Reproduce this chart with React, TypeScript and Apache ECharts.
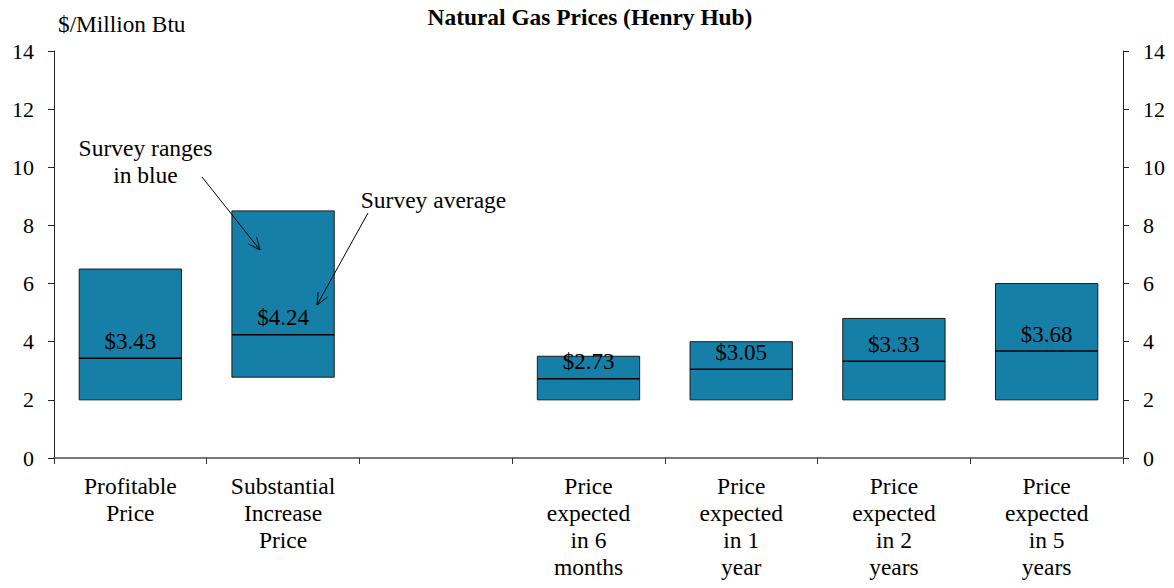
import React, { useEffect, useRef } from "react";
import * as echarts from "echarts";

const categories = [
  "Profitable\nPrice",
  "Substantial\nIncrease\nPrice",
  "",
  "Price\nexpected\nin 6\nmonths",
  "Price\nexpected\nin 1\nyear",
  "Price\nexpected\nin 2\nyears",
  "Price\nexpected\nin 5\nyears",
];
const rangeLow: (number | null)[] = [2, 2.78, null, 2, 2, 2, 2];
const rangeHigh: (number | null)[] = [6.5, 8.5, null, 3.5, 4, 4.8, 6];
const surveyAverage: (number | null)[] = [3.43, 4.24, null, 2.73, 3.05, 3.33, 3.68];
const yTicks = [0, 2, 4, 6, 8, 10, 12, 14];

const FONT = "Liberation Serif";

function arrow(x1: number, y1: number, x2: number, y2: number) {
  const ang = Math.atan2(y2 - y1, x2 - x1);
  const len = 13;
  const spread = 0.42;
  const a1 = ang + Math.PI - spread;
  const a2 = ang + Math.PI + spread;
  return [
    { type: "line", z: 100, shape: { x1, y1, x2, y2 }, style: { stroke: "#000", lineWidth: 1 } },
    {
      type: "polyline",
      z: 100,
      shape: {
        points: [
          [x2 + len * Math.cos(a1), y2 + len * Math.sin(a1)],
          [x2, y2],
          [x2 + len * Math.cos(a2), y2 + len * Math.sin(a2)],
        ],
      },
      style: { stroke: "#000", lineWidth: 1, fill: null },
    },
  ];
}

export default function App() {
  const ref = useRef<HTMLDivElement>(null);
  useEffect(() => {
    if (!ref.current) return;
    const chart = echarts.init(ref.current, null, { renderer: "svg" });
    const data: any[] = [];
    categories.forEach((_, i) => {
      if (rangeLow[i] == null) return;
      data.push([i, rangeLow[i], rangeHigh[i], surveyAverage[i]]);
    });
    const textBase = { fontFamily: FONT, fontSize: 23.5, fill: "#000" };
    chart.setOption({
      animation: false,
      backgroundColor: "#fff",
      textStyle: { fontFamily: FONT },
      grid: { left: 54, right: 51, top: 51, bottom: 130 },
      xAxis: [
        {
          type: "category",
          data: categories,
          position: "bottom",
          axisLine: { lineStyle: { color: "#555", width: 2 } },
          axisTick: { show: true, length: 6, lineStyle: { color: "#333", width: 1 } },
          axisLabel: {
            interval: 0,
            fontFamily: FONT,
            fontSize: 23.5,
            color: "#000",
            lineHeight: 27,
            margin: 14,
          },
        },
        {
          type: "category",
          data: categories,
          position: "top",
          axisLine: { lineStyle: { color: "#777", width: 2 } },
          axisTick: { show: false },
          axisLabel: { show: false },
        },
      ],
      yAxis: [
        {
          type: "value",
          min: yTicks[0],
          max: yTicks[yTicks.length - 1],
          interval: 2,
          position: "left",
          axisLine: { show: true, lineStyle: { color: "#222", width: 1 } },
          axisTick: { show: true, length: 6, lineStyle: { color: "#222" } },
          splitLine: { show: false },
          axisLabel: { fontFamily: FONT, fontSize: 22, color: "#000", margin: 20 },
        },
        {
          type: "value",
          min: yTicks[0],
          max: yTicks[yTicks.length - 1],
          interval: 2,
          position: "right",
          axisLine: { show: true, lineStyle: { color: "#222", width: 1 } },
          axisTick: { show: true, length: 6, lineStyle: { color: "#222" } },
          splitLine: { show: false },
          axisLabel: { fontFamily: FONT, fontSize: 22, color: "#000", margin: 20 },
        },
      ],
      series: [
        {
          type: "custom",
          xAxisIndex: 0,
          yAxisIndex: 0,
          data,
          encode: { x: 0, y: [1, 2, 3] },
          renderItem: (params: any, api: any) => {
            const idx = api.value(0);
            const low = api.coord([idx, api.value(1)]);
            const high = api.coord([idx, api.value(2)]);
            const avg = api.coord([idx, api.value(3)]);
            const bw = api.size([1, 0])[0] * 0.67;
            const x0 = low[0] - bw / 2;
            return {
              type: "group",
              children: [
                {
                  type: "rect",
                  shape: { x: x0, y: high[1], width: bw, height: low[1] - high[1] },
                  style: { fill: "#167FA8", stroke: "#1b1b1b", lineWidth: 1 },
                },
                {
                  type: "line",
                  shape: { x1: x0, y1: avg[1], x2: x0 + bw, y2: avg[1] },
                  style: { stroke: "#000", lineWidth: 1.5 },
                },
                {
                  type: "text",
                  x: low[0],
                  y: avg[1] - 17,
                  style: {
                    text: "$" + api.value(3).toFixed(2),
                    fontFamily: FONT,
                    fontSize: 23,
                    fill: "#000",
                    align: "center",
                    verticalAlign: "middle",
                  },
                },
              ],
            };
          },
        },
      ],
      graphic: [
        {
          type: "text",
          x: 590,
          y: 17,
          style: {
            text: "Natural Gas Prices (Henry Hub)",
            fontFamily: FONT,
            fontSize: 23.4,
            fontWeight: "bold",
            fill: "#000",
            align: "center",
            verticalAlign: "middle",
          },
        },
        {
          type: "text",
          x: 58,
          y: 24,
          style: { ...textBase, fontSize: 23.3, text: "$/Million Btu", align: "left", verticalAlign: "middle" },
        },
        {
          type: "text",
          x: 145.5,
          y: 161,
          style: {
            ...textBase,
            text: "Survey ranges\nin blue",
            align: "center",
            verticalAlign: "middle",
            lineHeight: 27,
          },
        },
        {
          type: "text",
          x: 433.5,
          y: 200,
          style: { ...textBase, text: "Survey average", align: "center", verticalAlign: "middle" },
        },
        ...arrow(202, 177, 260, 250),
        ...arrow(368, 213, 317, 305),
      ],
    });
    return () => chart.dispose();
  }, []);
  return (
    <div
      ref={ref}
      style={{ position: "fixed", left: 0, top: 0, width: 1174, height: 588 }}
    />
  );
}
